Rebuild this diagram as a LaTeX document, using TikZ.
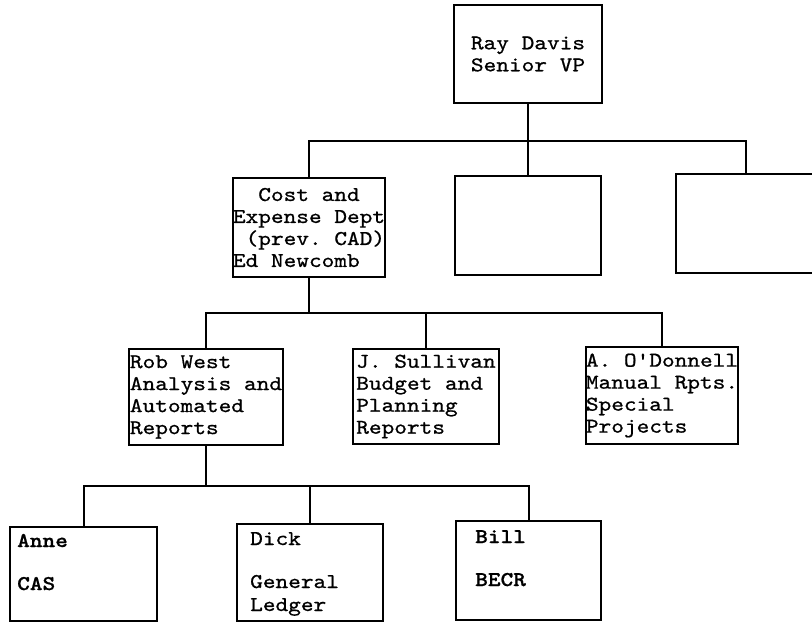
\documentclass[tikz,border=0pt]{standalone}
\usepackage{fontspec}
\setmonofont{lmmono10-regular.otf}[FakeStretch=1.15, FakeBold=0.8, BoldFont=lmmonolt10-bold.otf]
\begin{document}
\begin{tikzpicture}[x=1pt,y=-1pt,
  box/.style={draw, line width=2pt, rectangle, inner sep=0pt},
  tw/.style={font=\ttfamily\fontsize{21}{22}\selectfont},
  twb/.style={font=\ttfamily\bfseries\fontsize{21}{22}\selectfont},
  txt/.style={tw, inner sep=0pt},
  conn/.style={line width=2pt}]
\useasboundingbox (0,0) rectangle (812,622);

% level 0
\node[box, tw, align=center, minimum width=148pt, minimum height=98pt] (ray) at (528,54) {Ray Davis\\Senior VP};

% level 1
\node[box, tw, align=left, minimum width=152pt, minimum height=99pt] (cost) at (309,227.5)
  {\phantom{xx}Cost and\\Expense Dept\\\phantom{x}(prev. CAD)\\Ed Newcomb};
\node[box, minimum width=146pt, minimum height=99pt] (mid) at (528,225.5) {};
\node[box, minimum width=140pt, minimum height=99pt] (right) at (746,223.5) {};

% level 2
\node[box, tw, align=left, minimum width=154pt, minimum height=96pt] (rob) at (206,397)
  {Rob West\\Analysis and\\Automated\\Reports};
\node[box, tw, align=left, minimum width=146pt, minimum height=95pt] (sul) at (426,396.5)
  {J. Sullivan\\Budget and\\Planning\\Reports};
\node[box, tw, align=left, minimum width=150pt, minimum height=97pt] (odo) at (662,395.5)
  {A. O'Donnell\\Manual Rpts.\\Special\\Projects};

% level 3
\node[box, minimum width=147pt, minimum height=94pt] (anne) at (83.5,574) {};
\node[box, minimum width=146pt, minimum height=97pt] (dick) at (310,572.5) {};
\node[box, minimum width=145pt, minimum height=99pt] (bill) at (528.5,570.5) {};

\node[txt, twb, anchor=base west] (anneA) at (17,547) {Anne};
\node[txt, twb, anchor=base west] (anneB) at (17,590) {CAS};
\node[txt, anchor=base west] (dickA) at (250,545) {Dick};
\node[txt, anchor=base west] (dickB) at (250,588) {General};
\node[txt, anchor=base west] (dickC) at (250,611) {Ledger};
\node[txt, twb, anchor=base west] (billA) at (475,543) {Bill};
\node[txt, twb, anchor=base west] (billB) at (475,586) {BECR};

% connectors level 0 -> 1
\coordinate (j1) at (526,141);
\draw[conn] (ray.south) -- (ray.south |- j1);
\draw[conn] (cost.north) |- (j1) -| (right.north);
\draw[conn] (mid.north) -- (mid.north |- j1);

% connectors level 1 -> 2
\coordinate (j2) at (308,313);
\draw[conn] (cost.south) -- (cost.south |- j2);
\draw[conn] (rob.north) |- (j2) -| (odo.north);
\draw[conn] (sul.north) -- (sul.north |- j2);

% connectors level 2 -> 3
\coordinate (j3) at (205,486);
\draw[conn] (rob.south) -- (rob.south |- j3);
\draw[conn] (anne.north) |- (j3) -| (bill.north);
\draw[conn] (dick.north) -- (dick.north |- j3);
\end{tikzpicture}
\end{document}
